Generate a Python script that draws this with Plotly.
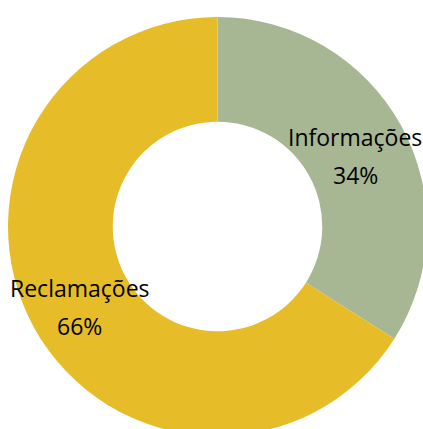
import math
import plotly.graph_objects as go

# Data
categories = ["Informações", "Reclamações"]
values = [34, 66]
colors = ["#A8B793", "#E7BC29"]

# Figure geometry (pie slightly overflows the window, as in the reference)
W, H = 440, 450
ML, MT = 8, 17
D = 419  # pie diameter in px
MR, MB = W - ML - D, H - MT - D
HOLE = 0.5

fig = go.Figure(go.Pie(
    labels=categories,
    values=values,
    marker=dict(colors=colors, line=dict(width=0)),
    hole=HOLE,
    sort=False,
    direction="clockwise",
    rotation=0,
    textinfo="none",
    hoverinfo="label+percent",
    showlegend=False,
))

# Labels placed on the mid-ring radius along each slice's bisector
total = sum(values)
cx, cy = ML + D / 2, MT + D / 2
r_mid = (D / 2) * (1 + HOLE) / 2
FONT = "Open Sans"
FS = 23
annotations = []
cum = 0
for cat, v in zip(categories, values):
    ang = (cum + v / 2) / total * 2 * math.pi
    cum += v
    px = cx + r_mid * math.sin(ang)
    py = cy - r_mid * math.cos(ang) + 5
    pct = f"{round(v / total * 100)}%"
    for txt, dy in ((cat, -19), (pct, 19)):
        annotations.append(dict(
            x=(px - ML) / D, y=1 - (py + dy - MT) / D,
            xref="paper", yref="paper",
            text=txt, showarrow=False,
            xanchor="center", yanchor="middle",
            font=dict(family=FONT, size=FS, color="#000000"),
        ))

fig.update_layout(
    width=W, height=H,
    margin=dict(l=ML, r=MR, t=MT, b=MB, pad=0),
    paper_bgcolor="white",
    plot_bgcolor="white",
    annotations=annotations,
)

fig.write_html(
    "out.html",
    config={"displayModeBar": False},
    post_script="document.body.style.margin='0';document.body.style.overflow='hidden';",
)
